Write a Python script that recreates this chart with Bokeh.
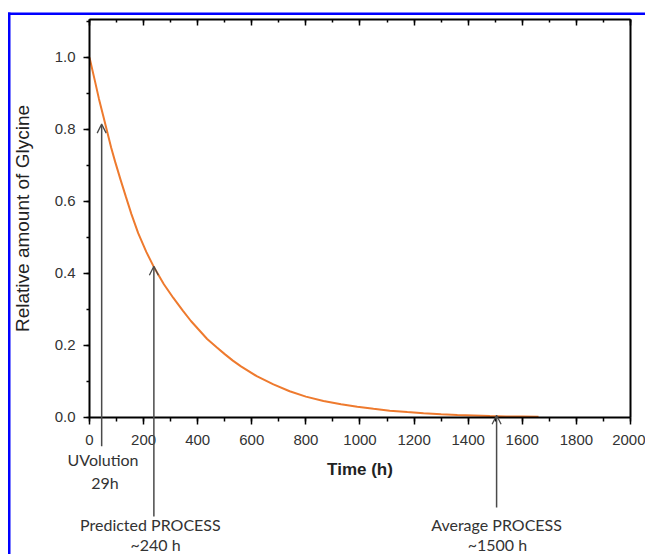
from bokeh.plotting import figure
from bokeh.models import (Range1d, LinearAxis, SingleIntervalTicker, FixedTicker,
                          Arrow, OpenHead, Label, BoxAnnotation,
                          PrintfTickFormatter, CustomJSTickFormatter)
from bokeh.embed import file_html
from bokeh.resources import INLINE

# ---- data ----
time_h = [0, 20, 35, 50, 65, 80, 95, 115, 135, 155, 180, 210, 240, 275, 310,
          345, 375, 405, 435, 470, 500, 530, 560, 620, 680, 740, 800, 865,
          930, 990, 1050, 1110, 1175, 1235, 1300, 1360, 1420, 1480, 1540,
          1600, 1660]
glycine = [1.0, 0.935, 0.885, 0.84, 0.795, 0.75, 0.71, 0.66, 0.612, 0.565,
           0.512, 0.46, 0.415, 0.37, 0.332, 0.297, 0.268, 0.243, 0.218,
           0.195, 0.176, 0.158, 0.142, 0.114, 0.092, 0.073, 0.058, 0.046,
           0.037, 0.030, 0.024, 0.019, 0.015, 0.012, 0.009, 0.007, 0.0055,
           0.004, 0.003, 0.0025, 0.002]

x_max = 2000
y_max = 1.105

marker_times = [45, 238, 1505]
marker_tips = [0.815, 0.42, 0.006]
marker_tails = [-0.08, -0.275, -0.25]
marker_names = ["UVolution", "Predicted PROCESS", "Average PROCESS"]
marker_values = ["29h", "~240 h", "~1500 h"]
name_x = [50, 225, 1505]
name_y = [-0.118, -0.297, -0.297]
value_x = [57, 244, 1508]
value_y = [-0.18, -0.352, -0.352]

x_title = "Time (h)"
y_title = "Relative amount of Glycine"

TICK_FONT = "Liberation Sans"
NOTE_FONT = "Lato"

W, H = 645, 554
X0, X1 = -329.0, 2055.5          # visible span of the whole canvas
Y0, Y1 = -0.3806, 1.1583

p = figure(width=W, height=H, x_range=Range1d(X0, X1),
           y_range=Range1d(Y0, Y1), output_backend="svg",
           toolbar_location=None, min_border=0,
           min_border_left=0, min_border_right=0, min_border_top=0,
           min_border_bottom=0)
p.grid.visible = False
p.background_fill_color = "white"
p.border_fill_color = "white"
p.outline_line_color = None

p.line(time_h, glycine, line_color="#ee7a2e", line_width=2)

xt = SingleIntervalTicker(interval=200, num_minor_ticks=2)
yt = SingleIntervalTicker(interval=0.2, num_minor_ticks=2)

xa = p.xaxis[0]
xa.ticker = xt
xa.axis_label = x_title
xa.fixed_location = 0
xa.bounds = (0, x_max)
ya = p.yaxis[0]
ya.ticker = yt
ya.axis_label = y_title
ya.formatter = PrintfTickFormatter(format="%.1f")
ya.fixed_location = 0
ya.bounds = (0, y_max)

for ax in (xa, ya):
    ax.axis_line_color = "black"
    ax.axis_line_width = 2
    ax.major_tick_line_color = "black"
    ax.major_tick_line_width = 1.5
    ax.minor_tick_line_color = "black"
    ax.minor_tick_line_width = 1.5
    ax.major_tick_in = 0
    ax.minor_tick_in = 0
    ax.major_label_text_font = TICK_FONT
    ax.major_label_text_font_size = "15px"
    ax.major_label_text_color = "#333333"
    ax.axis_label_text_font = TICK_FONT
    ax.axis_label_text_font_style = "normal"
    ax.axis_label_text_color = "#222222"

xa.major_tick_out = 7
xa.minor_tick_out = 4
xa.major_label_standoff = 11
xa.axis_label_standoff = 11
xa.axis_label_text_font_size = "17px"
xa.axis_label_text_font_style = "bold"

ya.major_tick_out = 6
ya.minor_tick_out = 3
ya.major_label_standoff = 8
ya.axis_label_standoff = 19
ya.axis_label_text_font_size = "19px"

blank = CustomJSTickFormatter(code="return ''")
top = LinearAxis(ticker=xt, formatter=blank, fixed_location=y_max,
                 bounds=(0, x_max), major_tick_in=6, major_tick_out=0,
                 minor_tick_in=3, minor_tick_out=0, major_label_standoff=0,
                 axis_line_color="black", axis_line_width=2,
                 major_tick_line_width=1.5, minor_tick_line_width=1.5)
p.add_layout(top, "above")
right = LinearAxis(ticker=FixedTicker(ticks=[]), formatter=blank,
                   fixed_location=x_max, bounds=(0, y_max),
                   major_tick_in=0, major_tick_out=0, minor_tick_in=0,
                   minor_tick_out=0, major_label_standoff=0,
                   axis_line_color="black", axis_line_width=2)
p.add_layout(right, "right")

# blue frame of the page (top and left edges)
px_x = (X1 - X0) / W
px_y = (Y1 - Y0) / H
p.add_layout(BoxAnnotation(left=X0 + 7.5 * px_x, right=X1,
                           top=Y1 - 12 * px_y, bottom=Y1 - 14.5 * px_y,
                           fill_color="#0000ff", fill_alpha=1, line_alpha=0))
p.add_layout(BoxAnnotation(left=X0 + 7.5 * px_x, right=X0 + 10 * px_x,
                           top=Y1 - 12 * px_y, bottom=Y0,
                           fill_color="#0000ff", fill_alpha=1, line_alpha=0))

for i in range(len(marker_times)):
    p.add_layout(Arrow(end=OpenHead(size=9, line_color="#4a4a4a",
                                    line_width=1.3),
                       x_start=marker_times[i], y_start=marker_tails[i],
                       x_end=marker_times[i], y_end=marker_tips[i],
                       line_color="#4a4a4a", line_width=1.5))
    p.add_layout(Label(x=name_x[i], y=name_y[i], text=marker_names[i],
                       text_align="center", text_baseline="middle",
                       text_font=NOTE_FONT, text_font_size="16px",
                       text_color="#333333"))
    p.add_layout(Label(x=value_x[i], y=value_y[i], text=marker_values[i],
                       text_align="center", text_baseline="middle",
                       text_font=NOTE_FONT, text_font_size="16px",
                       text_color="#333333"))

open("out.html", "w").write(file_html(p, INLINE))
